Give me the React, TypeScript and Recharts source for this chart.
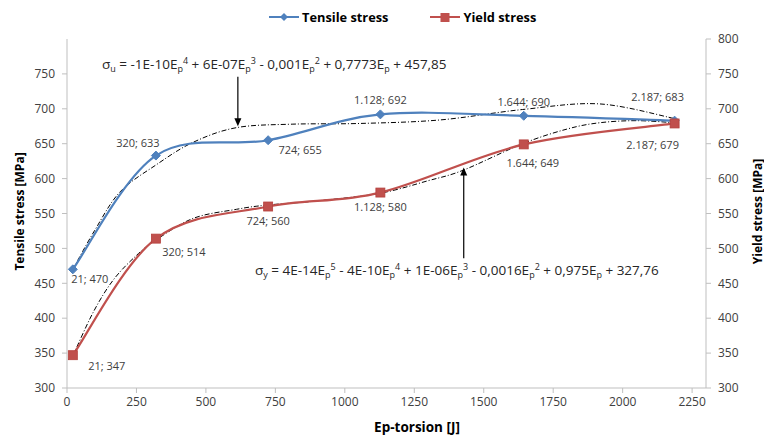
import { LineChart, Line, XAxis, YAxis, ReferenceLine, LabelList } from 'recharts'

// measured points
const energy = [21, 320, 724, 1128, 1644, 2187]
const tensile = [470, 633, 655, 692, 690, 683]
const yieldStress = [347, 514, 560, 580, 649, 679]

// polynomial trendlines
const tensileTrendX = [21, 100, 191, 322, 454, 610, 813, 1054, 1342, 1640, 1917, 2187]
const tensileTrendY = [470, 526, 581, 620, 652, 673, 678, 679, 684, 699, 707, 686]
const yieldTrendX = [21, 95, 167, 250, 320, 454, 610, 718, 900, 1126, 1300, 1426, 1640, 1800, 1917, 2050, 2187]
const yieldTrendY = [346, 409, 455, 490, 512, 543, 556, 562, 568, 579, 597, 612, 650, 671, 680, 683, 680]

const xTicks = [0, 250, 500, 750, 1000, 1250, 1500, 1750, 2000, 2250]
const leftTicks = [300, 350, 400, 450, 500, 550, 600, 650, 700, 750]
const rightTicks = [300, 350, 400, 450, 500, 550, 600, 650, 700, 750, 800]

// label placement relative to each point [dx, dy]
const tensileLabelOffset = [[17, 9], [-18, -13], [32, 9], [0, -15], [0, -14], [-17, -24]]
const yieldLabelOffset = [[34, 10], [28, 13], [0, 14], [0, 14], [9, 18], [-22, 21]]

const BLUE = '#4F81BD'
const RED = '#C0504D'
const AXIS = '#BFBFBF'
const TEXT = '#404040'
const FONT = '"Open Sans", sans-serif'

const tensileData = energy.map((x, i) => ({ x, y: tensile[i] }))
const yieldData = energy.map((x, i) => ({ x, y: yieldStress[i] }))
const tensileTrend = tensileTrendX.map((x, i) => ({ x, y: tensileTrendY[i] }))
const yieldTrend = yieldTrendX.map((x, i) => ({ x, y: yieldTrendY[i] }))

// Excel-like smoothing (Catmull-Rom as cubic bezier)
function excelSmooth(context: any) {
  let pts: number[][] = []
  return {
    areaStart() {},
    areaEnd() {},
    lineStart() { pts = [] },
    point(x: number, y: number) { pts.push([x, y]) },
    lineEnd() {
      if (!pts.length) return
      context.moveTo(pts[0][0], pts[0][1])
      for (let i = 0; i < pts.length - 1; i++) {
        const p0 = pts[i - 1] || pts[i]
        const p1 = pts[i]
        const p2 = pts[i + 1]
        const p3 = pts[i + 2] || p2
        context.bezierCurveTo(
          p1[0] + (p2[0] - p0[0]) / 6, p1[1] + (p2[1] - p0[1]) / 6,
          p2[0] - (p3[0] - p1[0]) / 6, p2[1] - (p3[1] - p1[1]) / 6,
          p2[0], p2[1],
        )
      }
    },
  }
}

const fmtEnergy = (v: number) =>
  v >= 1000 ? `${Math.floor(v / 1000)}.${String(v % 1000).padStart(3, '0')}` : String(v)

function pointLabel(values: number[], offsets: number[][]) {
  return (props: any) => {
    const { x, y, index } = props
    const [dx, dy] = offsets[index]
    return (
      <text x={x + dx} y={y + dy} textAnchor="middle" dominantBaseline="central"
        fontSize={11} fontFamily={FONT} fill={TEXT}>
        {`${fmtEnergy(energy[index])}; ${values[index]}`}
      </text>
    )
  }
}

const Diamond = (props: any) => {
  const { cx, cy } = props
  if (cx == null || cy == null) return null
  return <polygon points={`${cx},${cy - 4.5} ${cx + 4.5},${cy} ${cx},${cy + 4.5} ${cx - 4.5},${cy}`} fill={BLUE} stroke={BLUE} />
}

const Square = (props: any) => {
  const { cx, cy } = props
  if (cx == null || cy == null) return null
  return <rect x={cx - 4.5} y={cy - 4.5} width={9} height={9} fill={RED} stroke="#B5403D" strokeWidth={0.8} />
}

const Arrow = (props: any) => {
  const { x1, y1, x2, y2 } = props
  const dir = y2 > y1 ? 1 : -1
  return (
    <g>
      <line x1={x1} y1={y1} x2={x2} y2={y2 - dir * 6} stroke="#000" strokeWidth={1.2} />
      <polygon points={`${x2},${y2} ${x2 - 3.5},${y2 - dir * 8} ${x2 + 3.5},${y2 - dir * 8}`} fill="#000" />
    </g>
  )
}

const axisTitle = (text: string, pos: (vb: any) => [number, number], angle: number, size = 12) => (props: any) => {
  const [x, y] = pos(props.viewBox)
  return (
    <text x={x} y={y} textAnchor="middle" dominantBaseline="central" fontSize={size} fontWeight="bold"
      fontFamily={FONT} fill="#000" transform={angle ? `rotate(${angle} ${x} ${y})` : undefined}>
      {text}
    </text>
  )
}

const eqStyle: React.CSSProperties = {
  position: 'absolute', fontFamily: FONT, fontSize: 13.5, color: '#262626', whiteSpace: 'nowrap', lineHeight: 1,
}
const sub = { fontSize: 9, verticalAlign: -3 }
const sup = { fontSize: 9, verticalAlign: 5 }

function LegendItem({ color, label, square }: { color: string; label: string; square?: boolean }) {
  return (
    <div style={{ display: 'flex', alignItems: 'center' }}>
      <svg width={31} height={12}>
        <line x1={0} y1={6} x2={30} y2={6} stroke={color} strokeWidth={2} />
        {square
          ? <rect x={10.5} y={2} width={9} height={9} fill={color} />
          : <polygon points="15,2 19,6 15,10 11,6" fill={color} />}
      </svg>
      <span style={{ fontFamily: FONT, fontSize: 12.8, fontWeight: 'bold', color: '#000', marginLeft: 2 }}>{label}</span>
    </div>
  )
}

export default function App() {
  return (
    <div style={{ position: 'absolute', left: 0, top: 0, width: 764, height: 435, background: '#fff' }}>
      <LineChart width={764} height={435} margin={{ top: 39, right: 18, bottom: 17, left: 27 }}>
        <XAxis dataKey="x" type="number" domain={[0, 2300]} ticks={xTicks} allowDataOverflow
          stroke={AXIS} tickSize={5} tickMargin={4}
          tick={{ fill: TEXT, fontSize: 12, fontFamily: FONT }} height={30}
          label={{ content: axisTitle('Ep-torsion [J]', (vb) => [vb.x + 350, vb.y + 39], 0, 13.5) }} />
        <YAxis yAxisId="left" domain={[300, 800]} ticks={leftTicks} allowDataOverflow
          stroke={AXIS} tickSize={5} tickMargin={7} width={40}
          tick={{ fill: TEXT, fontSize: 12, fontFamily: FONT }}
          label={{ content: axisTitle('Tensile stress [MPa]', (vb) => [vb.x - 8, vb.y + vb.height / 2 - 2], -90) }} />
        <YAxis yAxisId="right" orientation="right" domain={[300, 800]} ticks={rightTicks} allowDataOverflow
          stroke={AXIS} tickSize={5} tickMargin={7} width={40}
          tick={{ fill: TEXT, fontSize: 12, fontFamily: FONT }}
          label={{ content: axisTitle('Yield stress [MPa]', (vb) => [vb.x + 51, vb.y + vb.height / 2 - 2], -90) }} />

        <Line yAxisId="left" data={tensileTrend} dataKey="y" type={excelSmooth as any} stroke="#000"
          strokeWidth={1} strokeDasharray="5 2 1 2" dot={false} activeDot={false} isAnimationActive={false} />
        <Line yAxisId="right" data={yieldTrend} dataKey="y" type={excelSmooth as any} stroke="#000"
          strokeWidth={1} strokeDasharray="5 2 1 2" dot={false} activeDot={false} isAnimationActive={false} />

        <Line yAxisId="left" data={tensileData} dataKey="y" name="Tensile stress" type={excelSmooth as any}
          stroke={BLUE} strokeWidth={2.2} dot={<Diamond />} activeDot={false} isAnimationActive={false}>
          <LabelList dataKey="y" content={pointLabel(tensile, tensileLabelOffset)} />
        </Line>
        <Line yAxisId="right" data={yieldData} dataKey="y" name="Yield stress" type={excelSmooth as any}
          stroke={RED} strokeWidth={2.2} dot={<Square />} activeDot={false} isAnimationActive={false}>
          <LabelList dataKey="y" content={pointLabel(yieldStress, yieldLabelOffset)} />
        </Line>

        <ReferenceLine yAxisId="left" segment={[{ x: 615, y: 746 }, { x: 615, y: 675 }]} shape={<Arrow />} />
        <ReferenceLine yAxisId="left" segment={[{ x: 1428, y: 486 }, { x: 1428, y: 616 }]} shape={<Arrow />} />
      </LineChart>

      <div style={{ position: 'absolute', top: 8, left: 269, display: 'flex', gap: 42 }}>
        <LegendItem color={BLUE} label="Tensile stress" />
        <LegendItem color={RED} label="Yield stress" square />
      </div>

      <div style={{ ...eqStyle, left: 102, top: 56 }}>
        σ<span style={sub}>u</span> = -1E-10E<span style={sub}>p</span><span style={sup}>4</span> + 6E-07E
        <span style={sub}>p</span><span style={sup}>3</span> - 0,001E<span style={sub}>p</span>
        <span style={sup}>2</span> + 0,7773E<span style={sub}>p</span> + 457,85
      </div>
      <div style={{ ...eqStyle, left: 255, top: 262 }}>
        σ<span style={sub}>y</span> = 4E-14E<span style={sub}>p</span><span style={sup}>5</span> - 4E-10E
        <span style={sub}>p</span><span style={sup}>4</span> + 1E-06E<span style={sub}>p</span>
        <span style={sup}>3</span> - 0,0016E<span style={sub}>p</span><span style={sup}>2</span> + 0,975E
        <span style={sub}>p</span> + 327,76
      </div>
    </div>
  )
}
